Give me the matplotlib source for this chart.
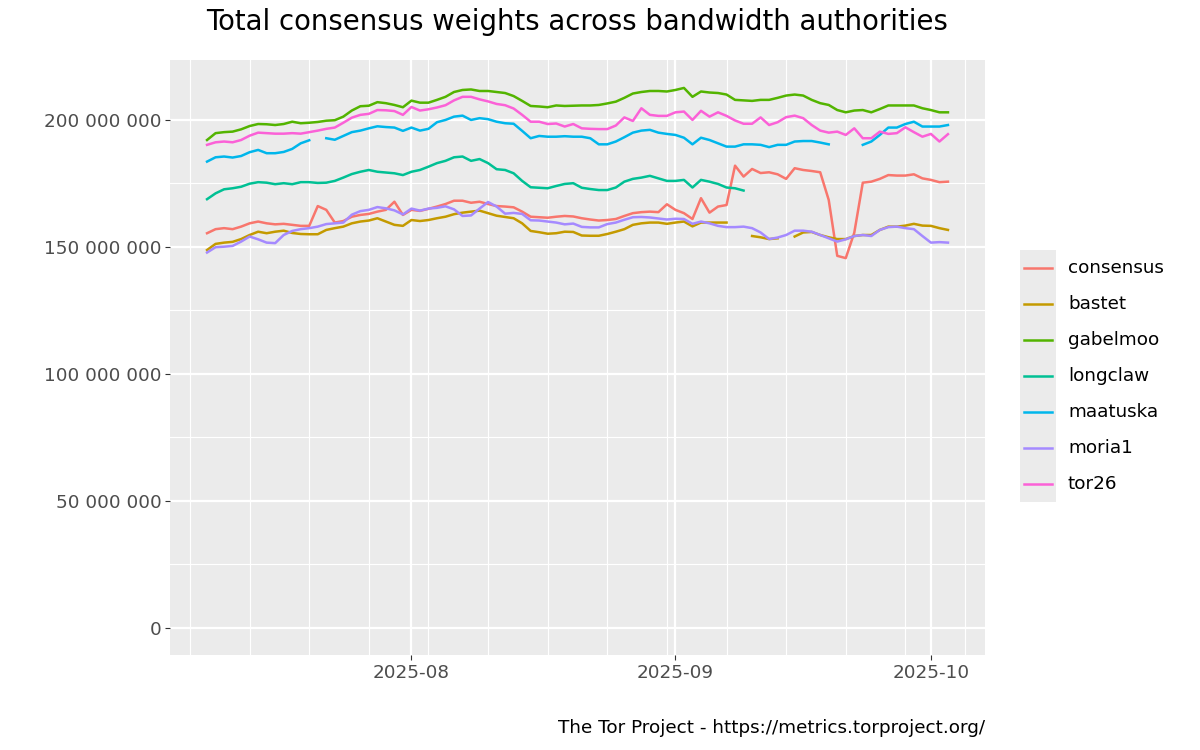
import numpy as np
import pandas as pd
import matplotlib
matplotlib.use("Agg")
import matplotlib.pyplot as plt
import matplotlib.dates as mdates
from matplotlib.ticker import FuncFormatter, MultipleLocator
from matplotlib.lines import Line2D
from matplotlib.patches import Rectangle

nan = np.nan

# daily values, millions, 2025-07-08 .. 2025-10-03
dates = pd.date_range("2025-07-08", periods=88, freq="D")

consensus = [155.4, 157.0, 157.4, 157.0, 158.0, 159.3, 160.0, 159.3, 158.9, 159.1,
             158.7, 158.3, 158.3, 166.1, 164.6, 159.6, 160.2, 161.9, 162.6, 163.0,
             163.9, 164.6, 167.8, 162.6, 164.6, 164.2, 165.0, 165.9, 166.9, 168.2,
             168.2, 167.4, 167.8, 166.9, 166.1, 165.9, 165.6, 163.9, 161.9, 161.7,
             161.5, 161.9, 162.2, 162.0, 161.3, 160.8, 160.4, 160.6, 161.0, 162.2,
             163.3, 163.7, 163.9, 163.7, 166.8, 164.6, 163.3, 161.0, 169.2, 163.5,
             165.9, 166.5, 182.0, 177.7, 180.7, 179.1, 179.4, 178.6, 176.8, 181.0,
             180.3, 179.9, 179.4, 168.5, 146.5, 145.6, 155.6, 175.3, 175.7, 176.8,
             178.3, 178.1, 178.1, 178.6, 177.0, 176.4, 175.5, 175.7]

bastet = [148.8, 151.2, 151.7, 152.0, 153.1, 154.7, 156.0, 155.4, 156.0, 156.4,
          155.5, 155.1, 155.0, 155.0, 156.7, 157.4, 158.0, 159.3, 160.0, 160.4,
          161.3, 160.0, 158.7, 158.3, 160.6, 160.2, 160.6, 161.3, 161.9, 162.9,
          163.5, 163.9, 164.3, 163.3, 162.3, 161.8, 161.3, 159.3, 156.3, 155.8,
          155.2, 155.4, 156.0, 155.9, 154.5, 154.4, 154.4, 155.1, 156.0, 157.0,
          158.7, 159.3, 159.6, 159.6, 159.1, 159.6, 160.0, 158.1, 159.6, 159.6,
          159.6, 159.6, nan, nan, 154.3, 153.8, 153.1, 153.4, nan, 154.1,
          155.7, 155.9, 154.7, 153.8, 153.1, 153.1, 154.3, 154.7, 154.7, 156.7,
          158.0, 158.0, 158.4, 159.1, 158.4, 158.3, 157.4, 156.7]

gabelmoo = [192.1, 194.8, 195.2, 195.4, 196.3, 197.6, 198.4, 198.3, 198.0, 198.4,
            199.3, 198.7, 198.9, 199.2, 199.7, 199.9, 201.3, 203.7, 205.4, 205.6,
            207.0, 206.6, 205.9, 205.0, 207.6, 206.8, 206.8, 207.9, 209.1, 211.0,
            211.8, 212.0, 211.4, 211.4, 211.0, 210.6, 209.4, 207.5, 205.5, 205.3,
            205.0, 205.7, 205.5, 205.6, 205.7, 205.7, 205.9, 206.5, 207.2, 208.7,
            210.4, 211.0, 211.4, 211.4, 211.2, 211.8, 212.6, 209.1, 211.2, 210.8,
            210.6, 210.0, 207.9, 207.7, 207.5, 207.9, 207.9, 208.7, 209.6, 210.0,
            209.6, 207.9, 206.6, 205.9, 203.9, 203.0, 203.7, 203.9, 203.0, 204.3,
            205.7, 205.7, 205.7, 205.7, 204.6, 203.9, 203.0, 203.0]

longclaw = [168.8, 171.1, 172.7, 173.1, 173.7, 174.9, 175.5, 175.3, 174.7, 175.1,
            174.7, 175.5, 175.5, 175.2, 175.3, 176.0, 177.3, 178.7, 179.6, 180.3,
            179.6, 179.3, 179.0, 178.3, 179.6, 180.3, 181.6, 183.0, 183.9, 185.3,
            185.6, 183.9, 184.6, 183.0, 180.6, 180.3, 179.0, 176.0, 173.5, 173.3,
            173.1, 174.0, 174.8, 175.1, 173.3, 172.8, 172.4, 172.4, 173.4, 175.7,
            176.8, 177.3, 178.0, 177.0, 176.0, 176.0, 176.4, 173.4, 176.4, 175.7,
            174.8, 173.4, 173.1, 172.2, nan, nan, nan, nan, nan, nan,
            nan, nan, nan, nan, nan, nan, nan, nan, nan, nan,
            nan, nan, nan, nan, nan, nan, nan, nan]

maatuska = [183.6, 185.3, 185.6, 185.2, 185.8, 187.3, 188.2, 186.9, 186.9, 187.4,
            188.6, 190.8, 192.0, nan, 192.8, 192.2, 193.7, 195.2, 195.8, 196.7,
            197.5, 197.2, 197.0, 195.7, 197.0, 195.8, 196.5, 199.1, 200.0, 201.3,
            201.7, 200.0, 200.7, 200.3, 199.3, 198.7, 198.5, 195.7, 192.8, 193.7,
            193.4, 193.4, 193.6, 193.4, 193.4, 192.8, 190.4, 190.4, 191.5, 193.2,
            195.0, 195.8, 196.1, 195.0, 194.5, 194.1, 193.0, 190.4, 193.0, 192.1,
            190.8, 189.5, 189.5, 190.4, 190.4, 190.2, 189.3, 190.2, 190.2, 191.5,
            191.7, 191.7, 191.1, 190.4, nan, nan, nan, 190.2, 191.5, 194.1,
            197.0, 197.0, 198.4, 199.3, 197.4, 197.4, 197.4, 198.0]

moria1 = [147.8, 149.9, 150.1, 150.4, 152.1, 154.1, 153.0, 151.7, 151.5, 154.7,
          156.3, 157.0, 157.4, 158.0, 159.0, 159.3, 159.6, 162.7, 164.1, 164.6,
          165.7, 165.2, 164.4, 162.8, 165.1, 164.3, 165.1, 165.4, 166.0, 164.8,
          162.2, 162.4, 165.1, 167.7, 165.9, 163.1, 163.4, 163.0, 160.5, 160.4,
          160.0, 159.6, 158.9, 159.2, 157.9, 157.7, 157.7, 159.0, 159.6, 160.7,
          161.7, 161.8, 161.6, 161.2, 160.8, 161.1, 161.0, 159.1, 160.0, 159.3,
          158.3, 157.8, 157.8, 158.0, 157.4, 155.7, 153.1, 153.7, 154.7, 156.4,
          156.4, 156.0, 154.7, 153.4, 152.1, 153.0, 154.3, 154.7, 154.3, 156.7,
          157.8, 158.0, 157.4, 157.0, 154.3, 151.7, 151.9, 151.7]

tor26 = [190.2, 191.2, 191.5, 191.2, 192.1, 193.8, 195.0, 194.8, 194.6, 194.6,
         194.8, 194.6, 195.2, 195.8, 196.5, 197.0, 198.9, 200.9, 202.0, 202.4,
         203.9, 203.8, 203.5, 202.0, 205.1, 203.7, 204.2, 204.9, 205.8, 207.7,
         209.1, 209.1, 208.1, 207.3, 206.3, 205.8, 204.5, 202.0, 199.3, 199.3,
         198.4, 198.6, 197.4, 198.4, 196.7, 196.5, 196.4, 196.4, 197.8, 201.0,
         199.6, 204.6, 202.0, 201.6, 201.6, 203.0, 203.3, 200.0, 203.6, 201.3,
         203.0, 201.6, 199.8, 198.5, 198.5, 201.0, 198.0, 199.1, 201.1, 201.7,
         200.7, 198.0, 195.8, 195.0, 195.4, 194.1, 196.7, 192.8, 192.8, 195.4,
         194.5, 194.8, 197.1, 195.2, 193.4, 194.5, 191.5, 194.4]

names = ["consensus", "bastet", "gabelmoo", "longclaw", "maatuska", "moria1", "tor26"]
series = [consensus, bastet, gabelmoo, longclaw, maatuska, moria1, tor26]
colors = ["#F8766D", "#C49A00", "#53B400", "#00C094", "#00B6EB", "#A58AFF", "#FB61D7"]

fig = plt.figure(figsize=(12, 7.5), dpi=100)
ax = fig.add_axes([170 / 1200, 95 / 750, 815 / 1200, 595 / 750])
ax.set_facecolor("#EBEBEB")
for s in ax.spines.values():
    s.set_visible(False)

for name, vals, c in zip(names, series, colors):
    ax.plot(dates, np.array(vals) * 1e6, color=c, lw=1.8, label=name, zorder=3)

ax.set_ylim(-10.65e6, 223.6e6)
ax.margins(x=0.05)

ax.yaxis.set_major_locator(MultipleLocator(50e6))
ax.yaxis.set_minor_locator(MultipleLocator(25e6))
ax.yaxis.set_major_formatter(FuncFormatter(lambda v, p: f"{int(round(v)):,}".replace(",", " ")))
ax.xaxis.set_major_locator(mdates.MonthLocator())
ax.xaxis.set_major_formatter(mdates.DateFormatter("%Y-%m"))
ax.xaxis.set_minor_locator(mdates.WeekdayLocator(byweekday=mdates.SU))

ax.grid(which="major", color="white", lw=1.6, zorder=0)
ax.grid(which="minor", color="white", lw=0.8, zorder=0)
ax.set_axisbelow(True)
ax.tick_params(which="major", length=3.3, width=0.8, color="#333333",
               labelsize=13.2, labelcolor="#4D4D4D", pad=3)
ax.tick_params(which="minor", length=0)

fig.text(577.5 / 1200, 1 - 22 / 750, "Total consensus weights across bandwidth authorities",
         ha="center", va="center", fontsize=19.8)
fig.text(985 / 1200, 1 - 728 / 750, "The Tor Project - https://metrics.torproject.org/",
         ha="right", va="center", fontsize=13.2)

# legend drawn by hand, ggplot style
fig.add_artist(Rectangle((1020 / 1200, 1 - 502 / 750), 36 / 1200, 252 / 750,
                         transform=fig.transFigure, facecolor="#EBEBEB", edgecolor="none"))
for i, (name, c) in enumerate(zip(names, colors)):
    yy = 1 - (268 + 36 * i) / 750
    fig.add_artist(Line2D([1024 / 1200, 1052 / 1200], [yy, yy], color=c, lw=1.8,
                          transform=fig.transFigure))
    fig.text(1068 / 1200, yy, name, ha="left", va="center", fontsize=13.2)

fig.savefig("out.png", dpi=100)
